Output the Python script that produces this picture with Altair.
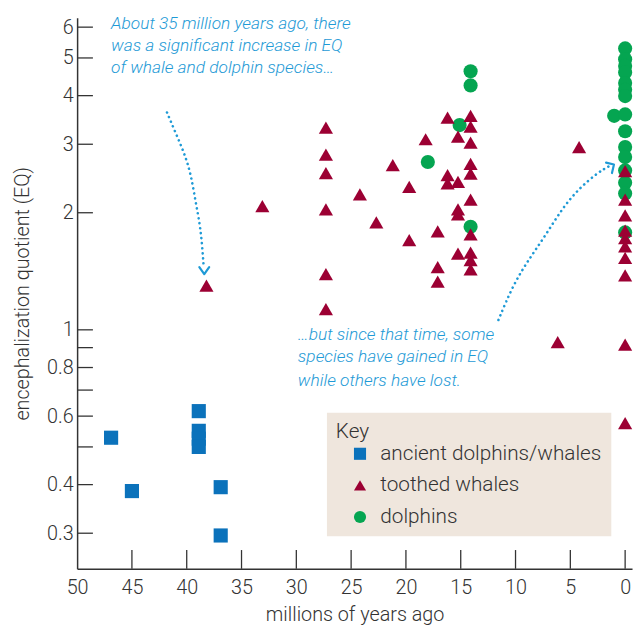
import altair as alt
import pandas as pd

# ---------------- data ----------------
groups = ["ancient dolphins/whales", "toothed whales", "dolphins"]
colors = ["#0b72bb", "#9c0033", "#05a551"]
shapes = ["square", "triangle-up", "circle"]

anc_x = [46.9, 45.0, 38.9, 38.9, 38.9, 38.9, 36.9, 36.9]
anc_y = [0.528, 0.385, 0.618, 0.55, 0.525, 0.50, 0.394, 0.296]

dol_x = [18.0, 15.1, 14.1, 14.1, 14.1, 1.0,
         0, 0, 0, 0, 0, 0, 0, 0, 0, 0, 0, 0, 0, 0, 0]
dol_y = [2.70, 3.36, 4.62, 4.25, 1.84, 3.55,
         5.29, 4.96, 4.77, 4.59, 4.31, 4.14, 3.99, 3.58, 3.24, 2.95, 2.78, 2.57, 2.39, 2.24, 1.78]

tw_x = [38.2, 33.1,
        27.3, 27.3, 27.3, 27.3, 27.3, 27.3,
        24.2, 22.7, 21.2, 19.7, 19.7, 18.2,
        17.1, 17.1, 17.1, 16.2, 16.2, 16.2,
        15.25, 15.25, 15.25, 15.25, 15.25,
        14.1, 14.1, 14.1, 14.1, 14.1, 14.1, 14.1, 14.1, 14.1, 14.1,
        6.15, 4.2,
        0, 0, 0, 0, 0, 0, 0, 0, 0, 0]
tw_y = [1.30, 2.08,
        3.31, 2.82, 2.53, 2.04, 1.39, 1.13,
        2.23, 1.89, 2.65, 2.33, 1.70, 3.09,
        1.79, 1.45, 1.33, 3.51, 2.50, 2.38,
        3.14, 2.40, 2.04, 1.98, 1.57,
        3.55, 3.33, 3.03, 2.67, 2.52, 2.16, 1.76, 1.58, 1.51, 1.43,
        0.93, 2.95,
        2.56, 2.16, 1.97, 1.80, 1.72, 1.64, 1.53, 1.38, 0.916, 0.576]

x_ticks = [0, 5, 10, 15, 20, 25, 30, 35, 40, 45, 50]
y_labels = [0.3, 0.4, 0.6, 0.8, 1, 2, 3, 4, 5, 6]
y_ticks = [0.3, 0.4, 0.5, 0.6, 0.7, 0.8, 0.9, 1, 2, 3, 4, 5, 6]

# annotation texts (position in data units)
note1_lines = ["About 35 million years ago, there",
               "was a significant increase in EQ",
               "of whale and dolphin species\u2026"]
note1_x = [46.9, 46.9, 46.9]
note1_y = [6.12, 5.35, 4.71]
note2_lines = ["\u2026but since that time, some",
               "species have gained in EQ",
               "while others have lost."]
note2_x = [29.86, 29.86, 29.86]
note2_y = [0.971, 0.849, 0.738]

arrow1_x = [41.8, 41.0, 40.2, 39.6, 39.2, 38.8, 38.6, 38.45]
arrow1_y = [3.62, 3.20, 2.84, 2.50, 2.14, 1.87, 1.66, 1.45]
arrow2_x = [11.56, 10.2, 8.7, 7.2, 5.7, 4.2, 2.4, 1.4]
arrow2_y = [1.06, 1.31, 1.53, 1.76, 2.06, 2.31, 2.55, 2.64]
head1_x = [38.85, 38.4, 37.95]
head1_y = [1.45, 1.39, 1.45]
head2_x = [1.74, 1.02, 1.2]
head2_y = [2.69, 2.66, 2.53]

# ---------------- build ----------------
W, H = 562, 558
BLUE = "#1e9ad6"
TXT = "#333333"
FONT = "Roboto"
NOTE_FONT = "'Liberation Sans Narrow', Roboto"

rows = []
for g, xs_, ys_ in [(groups[0], anc_x, anc_y), (groups[2], dol_x, dol_y), (groups[1], tw_x, tw_y)]:
    for a, b in zip(xs_, ys_):
        rows.append({"group": g, "myr": a, "eq": b})
df = pd.DataFrame(rows)

xs = alt.Scale(domain=[-0.63, 50], reverse=True, nice=False, zero=False)
ys = alt.Scale(type="log", domain=[0.243, 6.34], nice=False)
ax_x = alt.Axis(values=x_ticks, format="d", title="millions of years ago", labelFlush=False)
ax_y = alt.Axis(values=y_labels, format="~g", title="encephalization quotient (EQ)", labelFlush=False)


def X():
    return alt.X("myr:Q", scale=xs, axis=ax_x)


def Y():
    return alt.Y("eq:Q", scale=ys, axis=ax_y)


legend = alt.Legend(
    title="Key", orient="none", legendX=253, legendY=400,
    fillColor="#efe6dd", padding=9, titleFontSize=21, titleFontWeight=300,
    titleColor=TXT, titleFont=FONT, titlePadding=1,
    labelFontSize=21, labelColor=TXT, labelFont=FONT, labelFontWeight=300, labelLimit=400,
    symbolSize=150, symbolOffset=14, labelOffset=10, rowPadding=10,
    symbolStrokeWidth=0, symbolOpacity=1,
)

points = alt.Chart(df).mark_point(filled=True, opacity=1, size=205).encode(
    x=X(), y=Y(),
    color=alt.Color("group:N", scale=alt.Scale(domain=groups, range=colors), legend=legend),
    shape=alt.Shape("group:N", scale=alt.Scale(domain=groups, range=shapes), legend=legend),
)

ytick = alt.Chart(pd.DataFrame({"eq": y_ticks})).mark_rule(color=TXT, strokeWidth=1.3).encode(
    y=Y(), x=alt.value(0), x2=alt.value(16))
xtick = alt.Chart(pd.DataFrame({"myr": x_ticks[:-1]})).mark_rule(color=TXT, strokeWidth=1.3).encode(
    x=X(), y=alt.value(H), y2=alt.value(H - 19))

notes = pd.DataFrame({"txt": note1_lines + note2_lines, "myr": note1_x + note2_x, "eq": note1_y + note2_y})
note_layer = alt.Chart(notes).mark_text(
    align="left", baseline="middle", font=NOTE_FONT, fontStyle="italic", fontSize=17.5,
    fontWeight=300, color=BLUE
).encode(x=X(), y=Y(), text="txt:N")

arr_rows = []
for k, (ax, ay) in enumerate([(arrow1_x, arrow1_y), (arrow2_x, arrow2_y)]):
    for i, (a, b) in enumerate(zip(ax, ay)):
        arr_rows.append({"id": k, "o": i, "myr": a, "eq": b})
arrows = alt.Chart(pd.DataFrame(arr_rows)).mark_line(
    color=BLUE, strokeWidth=2.6, strokeDash=[0.1, 5], strokeCap="round", interpolate="basis"
).encode(x=X(), y=Y(), detail="id:N", order="o:Q")

head_rows = []
for k, (hx, hy) in enumerate([(head1_x, head1_y), (head2_x, head2_y)]):
    for i, (a, b) in enumerate(zip(hx, hy)):
        head_rows.append({"id": k, "o": i, "myr": a, "eq": b})
heads = alt.Chart(pd.DataFrame(head_rows)).mark_line(
    color=BLUE, strokeWidth=2.2, strokeCap="round", strokeJoin="round"
).encode(x=X(), y=Y(), detail="id:N", order="o:Q")

chart = alt.layer(ytick, xtick, arrows, heads, note_layer, points).properties(
    width=W, height=H,
    autosize=alt.AutoSizeParams(type="none"),
    padding={"left": 70, "top": 6, "right": 3, "bottom": 58},
).configure_view(stroke=None).configure_axis(
    grid=False, ticks=False, domainColor=TXT, domainWidth=1.5,
    labelFont=FONT, labelFontSize=20, labelColor=TXT, labelFontWeight=300,
    titleFont=FONT, titleFontSize=20, titleColor=TXT, titleFontWeight=300,
).configure_axisX(labelPadding=9, titlePadding=7).configure_axisY(labelPadding=4, titlePadding=14)

chart.save("out.html", embed_options={"renderer": "svg", "actions": False})
